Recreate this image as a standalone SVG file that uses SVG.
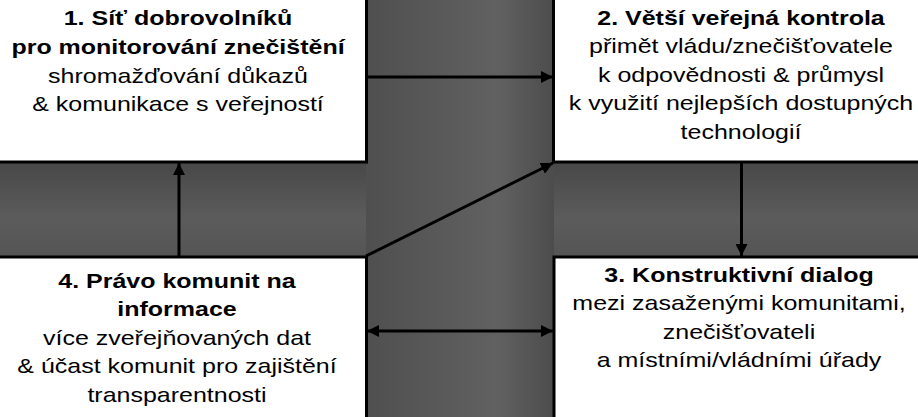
<svg xmlns="http://www.w3.org/2000/svg" width="918" height="417" viewBox="0 0 918 417">
  <style>
    .box { fill: #ffffff; stroke: #000000; stroke-width: 3; }
    text { font-family: "Liberation Sans", Arial, sans-serif; font-size: 21px; fill: #000000; text-anchor: middle; }
    .b { font-weight: bold; }
    .conn { stroke: #000000; stroke-width: 3; fill: none; marker-end: url(#arrow); }
  </style>
  <defs>
    <linearGradient id="hband" x1="0" y1="0" x2="0" y2="1">
      <stop offset="0" stop-color="#474747"/>
      <stop offset="0.6" stop-color="#5c5c5c"/>
      <stop offset="1" stop-color="#545454"/>
    </linearGradient>
    <linearGradient id="vband" x1="0" y1="0" x2="1" y2="0">
      <stop offset="0" stop-color="#4f4f4f"/>
      <stop offset="0.7" stop-color="#616161"/>
      <stop offset="1" stop-color="#4c4c4c"/>
    </linearGradient>
    <marker id="arrow" viewBox="0 0 12 12" refX="12" refY="6" markerWidth="12" markerHeight="12" markerUnits="userSpaceOnUse" orient="auto-start-reverse">
      <path d="M0,0 L12,6 L0,12 z" fill="#000000"/>
    </marker>
  </defs>

  <rect x="0" y="0" width="918" height="417" fill="#555555"/>
  <rect x="0" y="160" width="918" height="98" fill="url(#hband)"/>
  <rect x="366" y="0" width="188" height="417" fill="url(#vband)"/>

  <g id="node1">
    <rect class="box" x="-5" y="-5" width="371.5" height="167"/>
    <g transform="translate(178 0) scale(1.19 1)">
      <text class="b" x="0" y="25">1. Síť dobrovolníků</text>
      <text class="b" x="0" y="54">pro monitorování znečištění</text>
      <text x="0" y="83">shromažďování důkazů</text>
      <text x="0" y="111.5">&amp; komunikace s veřejností</text>
    </g>
  </g>

  <g id="node2">
    <rect class="box" x="553.5" y="-5" width="370" height="167"/>
    <g transform="translate(741 0) scale(1.19 1)">
      <text class="b" x="0" y="25">2. Větší veřejná kontrola</text>
      <text x="0" y="53.5">přimět vládu/znečišťovatele</text>
      <text x="0" y="82">k odpovědnosti &amp; průmysl</text>
      <text x="0" y="110.5">k využití nejlepších dostupných</text>
      <text x="0" y="139">technologií</text>
    </g>
  </g>

  <g id="node3">
    <rect class="box" x="554" y="257" width="370" height="165"/>
    <g transform="translate(739 0) scale(1.19 1)">
      <text class="b" x="0" y="282">3. Konstruktivní dialog</text>
      <text x="0" y="310.5">mezi zasaženými komunitami,</text>
      <text x="0" y="339">znečišťovateli</text>
      <text x="0" y="367">a místními/vládními úřady</text>
    </g>
  </g>

  <g id="node4">
    <rect class="box" x="-5" y="257" width="371.5" height="165"/>
    <g transform="translate(177 0) scale(1.19 1)">
      <text class="b" x="0" y="288">4. Právo komunit na</text>
      <text class="b" x="0" y="316.5">informace</text>
      <text x="0" y="345">více zveřejňovaných dat</text>
      <text x="0" y="373.5">&amp; účast komunit pro zajištění</text>
      <text x="0" y="402">transparentnosti</text>
    </g>
  </g>

  <g id="connectors">
    <line class="conn" x1="367" y1="77" x2="553" y2="77"/>
    <line class="conn" x1="741.5" y1="163" x2="741.5" y2="256"/>
    <line class="conn" x1="367" y1="331" x2="553" y2="331" style="marker-start: url(#arrow);"/>
    <line class="conn" x1="179" y1="256" x2="179" y2="163"/>
    <line class="conn" x1="366" y1="256" x2="553" y2="163"/>
  </g>
</svg>
